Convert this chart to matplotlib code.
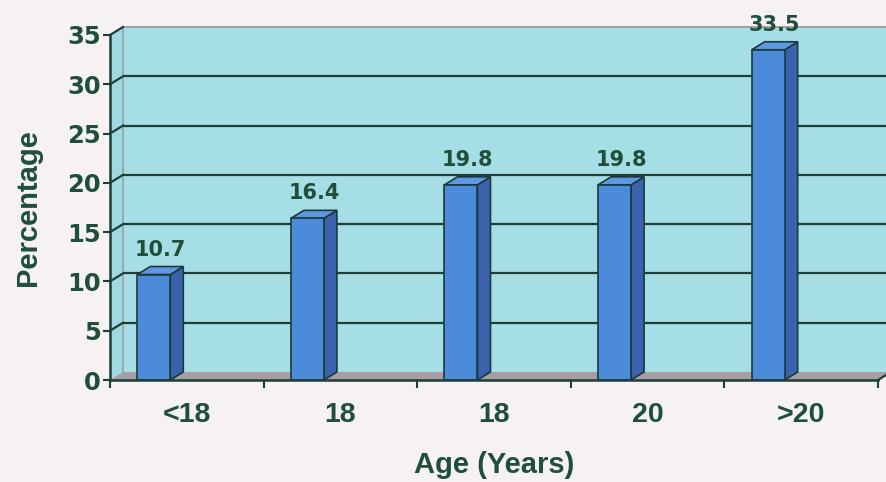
import matplotlib
matplotlib.use("Agg")
import matplotlib.pyplot as plt
from matplotlib.patches import Polygon, Rectangle

# Data
categories = ["<18", "18", "18", "20", ">20"]
values = [10.7, 16.4, 19.8, 19.8, 33.5]
y_ticks = [0, 5, 10, 15, 20, 25, 30, 35]

# Styling
BG = "#f6f1f3"
WALL = "#a6dee5"
SIDE_WALL = "#9fd9e2"
FLOOR = "#a59ea5"
GRID = "#1d3f35"
TEXT = "#1f4f3b"
BAR_FRONT = "#4c8bda"
BAR_SIDE = "#3b63ad"
BAR_TOP = "#5f98e2"
BAR_EDGE = "#1b3a3c"

W, H = 886, 482
fig = plt.figure(figsize=(W / 100, H / 100), dpi=100, facecolor=BG)
ax_left, ax_bottom, ax_w, ax_h = 110, 102, 768, 345
ax = fig.add_axes([ax_left / W, ax_bottom / H, ax_w / W, ax_h / H])
ax.set_facecolor("none")
ax.set_xlim(-0.5, len(categories) - 0.5)
ax.set_ylim(0, 35)

# depth of the 3-D box, converted from pixels to data units
px_x = ax_w / len(categories)
px_y = ax_h / 35
DX = 13 / px_x
DY = 8 / px_y
x_lo, x_hi = -0.5, len(categories) - 0.5

# back wall
ax.add_patch(Rectangle((x_lo + DX, DY), x_hi - x_lo, 35, facecolor=WALL,
                       edgecolor="none", zorder=0, clip_on=False))
# left wall
ax.add_patch(Polygon([(x_lo, 0), (x_lo, 35), (x_lo + DX, 35 + DY), (x_lo + DX, DY)],
                     closed=True, facecolor=SIDE_WALL, edgecolor="none",
                     zorder=0.5, clip_on=False))
# wall borders
ax.plot([x_lo + DX, x_lo + DX], [DY, 35 + DY], color="#9aa0a4", lw=1.2,
        zorder=1, clip_on=False)
ax.plot([x_lo + DX, x_hi + DX], [35 + DY, 35 + DY], color="#9aa0a4", lw=1.4,
        zorder=1, clip_on=False)

# gridlines on back and left walls
for v in y_ticks[1:-1]:
    ax.plot([x_lo + DX, x_hi + DX], [v + DY, v + DY], color=GRID, lw=1.6,
            zorder=1, clip_on=False, solid_capstyle="butt")
for v in y_ticks[1:]:
    ax.plot([x_lo, x_lo + DX], [v, v + DY], color=GRID, lw=1.6,
            zorder=1, clip_on=False)

# floor
ax.add_patch(Polygon([(x_lo, 0), (x_hi, 0), (x_hi + DX, DY), (x_lo + DX, DY)],
                     closed=True, facecolor=FLOOR, edgecolor="none",
                     zorder=2, clip_on=False))
ax.plot([x_hi, x_hi + DX], [0, DY], color=GRID, lw=1.6, zorder=2, clip_on=False)

# bars
shift = -0.215
bw = 0.215
xs = [i + shift for i in range(len(categories))]
ax.bar(xs, values, width=bw, color=BAR_FRONT, edgecolor=BAR_EDGE,
       linewidth=1.2, zorder=5)
for x, v in zip(xs, values):
    x0, x1 = x - bw / 2, x + bw / 2
    ax.add_patch(Polygon([(x1, 0), (x1, v), (x1 + DX, v + DY), (x1 + DX, DY)],
                         closed=True, facecolor=BAR_SIDE, edgecolor=BAR_EDGE,
                         linewidth=1.2, zorder=4.5, clip_on=False))
    ax.add_patch(Polygon([(x0, v), (x1, v), (x1 + DX, v + DY), (x0 + DX, v + DY)],
                         closed=True, facecolor=BAR_TOP, edgecolor=BAR_EDGE,
                         linewidth=1.2, zorder=4.5, clip_on=False))
    ax.annotate(f"{v}", xy=(x + DX / 2, v), xytext=(0, 19 * 0.72),
                textcoords="offset points", ha="center", va="baseline",
                fontsize=15, fontweight="bold", color=TEXT,
                family="DejaVu Sans", zorder=6, annotation_clip=False)

# axes lines and ticks
for s in ("top", "right"):
    ax.spines[s].set_visible(False)
for s in ("left", "bottom"):
    ax.spines[s].set_color(GRID)
    ax.spines[s].set_linewidth(1.8)
    ax.spines[s].set_zorder(7)

ax.set_yticks(y_ticks)
ax.set_yticklabels([str(t) for t in y_ticks])
ax.tick_params(axis="y", direction="out", length=5, width=1.5, color=GRID,
               pad=1.5, labelsize=17.5, labelcolor=TEXT)
for lab in ax.get_yticklabels():
    lab.set_fontweight("bold")
    lab.set_family("DejaVu Sans")

ax.set_xticks([x_lo + k for k in range(len(categories) + 1)])
ax.set_xticklabels([])
ax.set_xticks(range(len(categories)), minor=True)
ax.set_xticklabels(categories, minor=True)
ax.tick_params(axis="x", which="major", direction="out", length=6, width=1.5,
               color=GRID)
ax.tick_params(axis="x", which="minor", length=0, pad=16, labelsize=20.5,
               labelcolor=TEXT)
for lab in ax.get_xticklabels(minor=True):
    lab.set_fontweight("bold")
    lab.set_family("Liberation Sans")

# axis titles
fig.text(494 / W, 9 / H, "Age (Years)", ha="center", va="baseline",
         fontsize=21, fontweight="bold", color=TEXT, family="Liberation Sans")
fig.text(28 / W, 1 - 208 / H, "Percentage", ha="center", va="center",
         rotation=90, fontsize=21, fontweight="bold", color=TEXT,
         family="Liberation Sans")

fig.savefig("out.png", dpi=100, facecolor=BG)
